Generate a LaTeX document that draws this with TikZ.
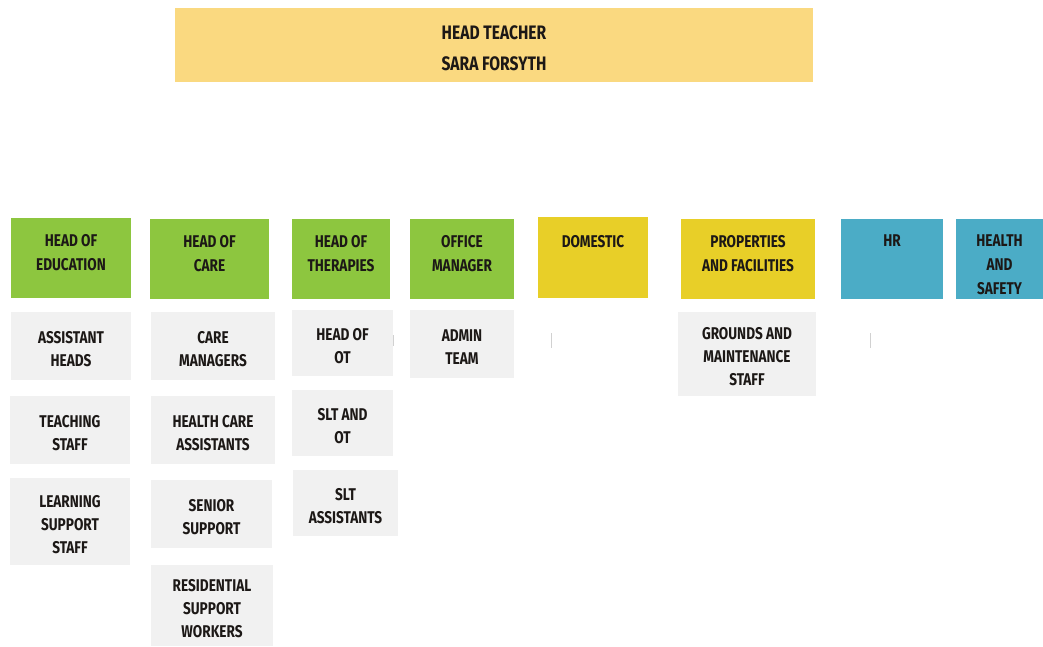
\documentclass[tikz,border=0pt]{standalone}
\usepackage{fontspec}
\setmainfont{Fira Sans}[FakeStretch=0.8]
\definecolor{grn}{RGB}{141,198,63}
\definecolor{ylw}{RGB}{232,207,40}
\definecolor{htc}{RGB}{250,217,128}
\definecolor{blu}{RGB}{75,172,198}
\definecolor{gry}{RGB}{241,241,241}
\definecolor{txt}{RGB}{28,24,22}
\newcommand{\topbox}[4][16pt]{\parbox[c][#3][t]{#2}{\centering\vspace*{#1}#4\par}}
\newcommand{\midbox}[3]{\parbox[c][#2][c]{#1}{\vspace*{6pt}\centering #3\par}}
\begin{document}
\begin{tikzpicture}[x=1pt,y=-1pt,
  orgbox/.style={inner sep=0pt, outer sep=0pt, anchor=north west, text=txt,
    font=\bfseries\fontsize{17}{23}\selectfont},
  headbox/.style={orgbox, fill=#1, font=\bfseries\fontsize{17}{24}\selectfont},
  subbox/.style={orgbox, fill=gry},
  tick/.style={draw=black!18, line width=1pt}]
\useasboundingbox (0,0) rectangle (1043,646);
% head teacher
\node[orgbox, fill=htc, font=\bfseries\fontsize{19.5}{31}\selectfont] (ht) at (175,8)
  {\topbox[18pt]{638pt}{74pt}{HEAD TEACHER\\SARA FORSYTH}};
% heads row
\node[headbox=grn] (edu) at (11,218) {\topbox{120pt}{80pt}{HEAD OF\\EDUCATION}};
\node[headbox=grn] (care) at (150,219) {\topbox{119pt}{80pt}{HEAD OF\\CARE}};
\node[headbox=grn] (ther) at (292,219) {\topbox{98pt}{80pt}{HEAD OF\\THERAPIES}};
\node[headbox=grn] (office) at (410,219) {\topbox{104pt}{80pt}{OFFICE\\MANAGER}};
\node[headbox=ylw] (dom) at (538,217) {\topbox[18pt]{110pt}{81pt}{DOMESTIC}};
\node[headbox=ylw] (prop) at (681,219) {\topbox{134pt}{80pt}{PROPERTIES\\AND FACILITIES}};
\node[headbox=blu] (hr) at (841,219) {\topbox{102pt}{80pt}{HR}};
\node[headbox=blu] (hs) at (956,219) {\topbox{87pt}{80pt}{HEALTH\\AND\\SAFETY}};
% education column
\node[subbox] (ah) at (11,312) {\midbox{120pt}{68pt}{ASSISTANT\\HEADS}};
\node[subbox] (ts) at (10,396) {\midbox{120pt}{68pt}{TEACHING\\STAFF}};
\node[subbox] (ls) at (10,478) {\midbox{120pt}{87pt}{LEARNING\\SUPPORT\\STAFF}};
% care column
\node[subbox] (cm) at (151,312) {\midbox{124pt}{68pt}{CARE\\MANAGERS}};
\node[subbox] (hca) at (151,396) {\midbox{124pt}{68pt}{HEALTH CARE\\ASSISTANTS}};
\node[subbox] (ss) at (151,480) {\midbox{121pt}{68pt}{SENIOR\\SUPPORT}};
\node[subbox] (rsw) at (151,565) {\midbox{122pt}{81pt}{RESIDENTIAL\\SUPPORT\\WORKERS}};
% therapies column
\node[subbox] (hot) at (292,310) {\midbox{101pt}{66pt}{HEAD OF\\OT}};
\node[subbox] (slt) at (292,390) {\midbox{101pt}{66pt}{SLT AND\\OT}};
\node[subbox] (slta) at (293,470) {\midbox{105pt}{66pt}{SLT\\ASSISTANTS}};
% office
\node[subbox] (admin) at (410,310) {\midbox{104pt}{68pt}{ADMIN\\TEAM}};
% properties
\node[subbox] (gms) at (678,312) {\midbox{138pt}{84pt}{GROUNDS AND\\MAINTENANCE\\STAFF}};
% faint ticks
\coordinate (t1a) at (551,333); \coordinate (t1b) at (551,348);
\coordinate (t2a) at (870,333); \coordinate (t2b) at (870,348);
\coordinate (t3a) at (393,335); \coordinate (t3b) at (393,346);
\draw[tick] (t1a) -- (t1b);
\draw[tick] (t2a) -- (t2b);
\draw[tick] (t3a) -- (t3b);
\end{tikzpicture}
\end{document}
